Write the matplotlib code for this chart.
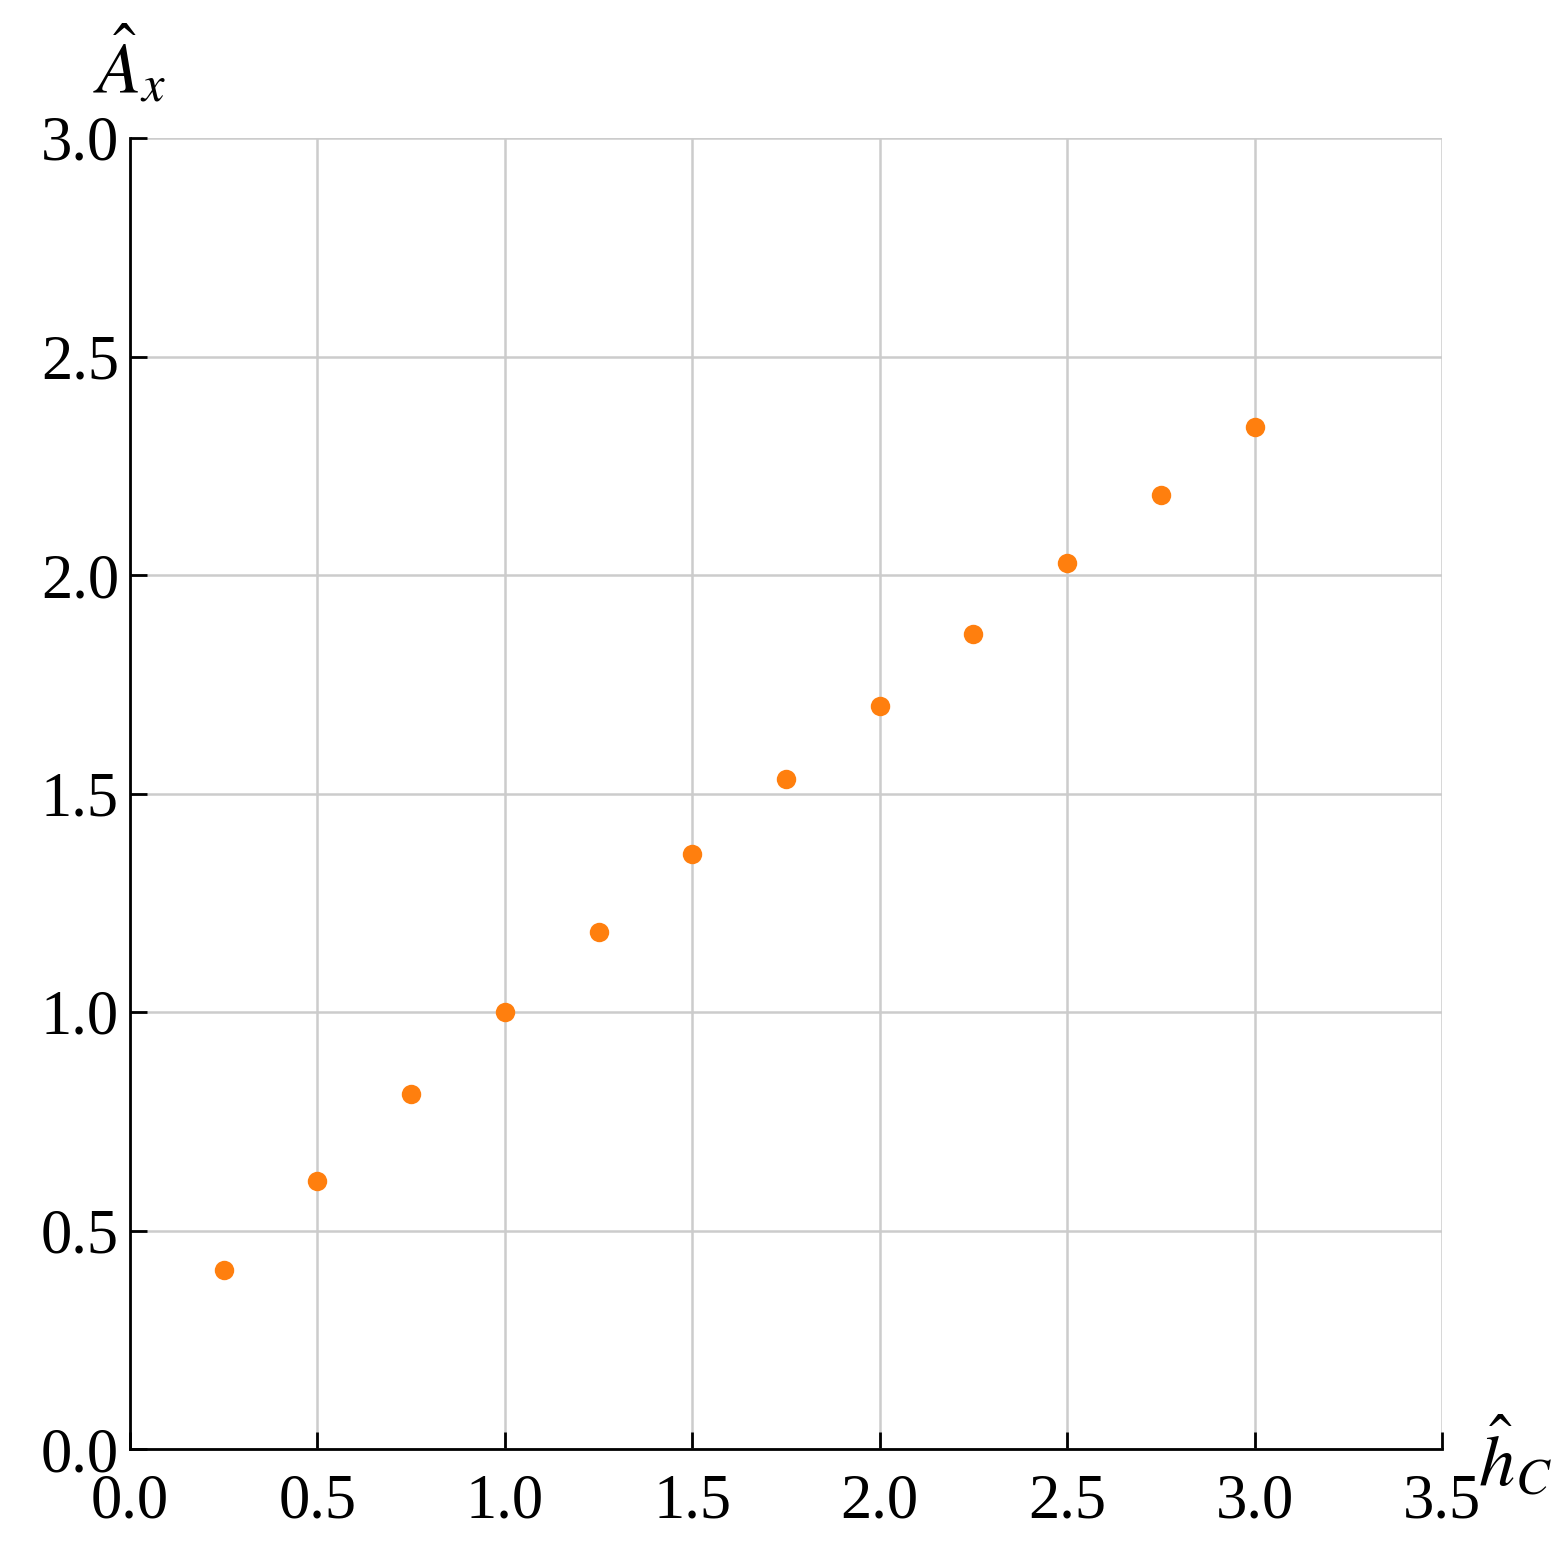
import matplotlib
matplotlib.use("Agg")
import matplotlib.pyplot as plt

h_C = [0.25, 0.5, 0.75, 1.0, 1.25, 1.5, 1.75, 2.0, 2.25, 2.5, 2.75, 3.0]
A_x = [0.41, 0.613, 0.812, 1.0, 1.183, 1.362, 1.533, 1.700, 1.865, 2.027, 2.183, 2.339]
xticks = [0.0, 0.5, 1.0, 1.5, 2.0, 2.5, 3.0, 3.5]
yticks = [0.0, 0.5, 1.0, 1.5, 2.0, 2.5, 3.0]

plt.rcParams['font.family'] = ['Liberation Serif', 'DejaVu Serif']
plt.rcParams['mathtext.fontset'] = 'stix'

fig = plt.figure(figsize=(7.8, 7.78), dpi=200)
ax = fig.add_axes([130/1560, 1 - 1449/1556, (1442-130)/1560, (1449-138)/1556])

ax.plot(h_C, A_x, 'o', color='#ff7f0e', markersize=7, markeredgewidth=0, zorder=3, clip_on=False)

ax.set_xlim(0, 3.5)
ax.set_ylim(0, 3.0)
ax.set_xticks(xticks)
ax.set_yticks(yticks)
ax.set_xticklabels([f"{v:.1f}" for v in xticks])
ax.set_yticklabels([f"{v:.1f}" for v in yticks])
ax.grid(True, color='#cccccc', linewidth=0.9)
ax.set_axisbelow(True)
for s in ['top', 'right']:
    ax.spines[s].set_visible(False)
for s in ['left', 'bottom']:
    ax.spines[s].set_linewidth(1.0)
ax.tick_params(direction='in', length=6, width=1.0, labelsize=22.5)
ax.tick_params(axis='x', pad=9)
ax.tick_params(axis='y', pad=4)

fig.text(130/1560, 1 - 65/1556, r'$\hat{A}_x$', fontsize=26, ha='center', va='center')
fig.text(1515/1560, 1 - 1458/1556, r'$\hat{h}_C$', fontsize=26, ha='center', va='center')

fig.savefig('out.png', dpi=200, facecolor='white')
